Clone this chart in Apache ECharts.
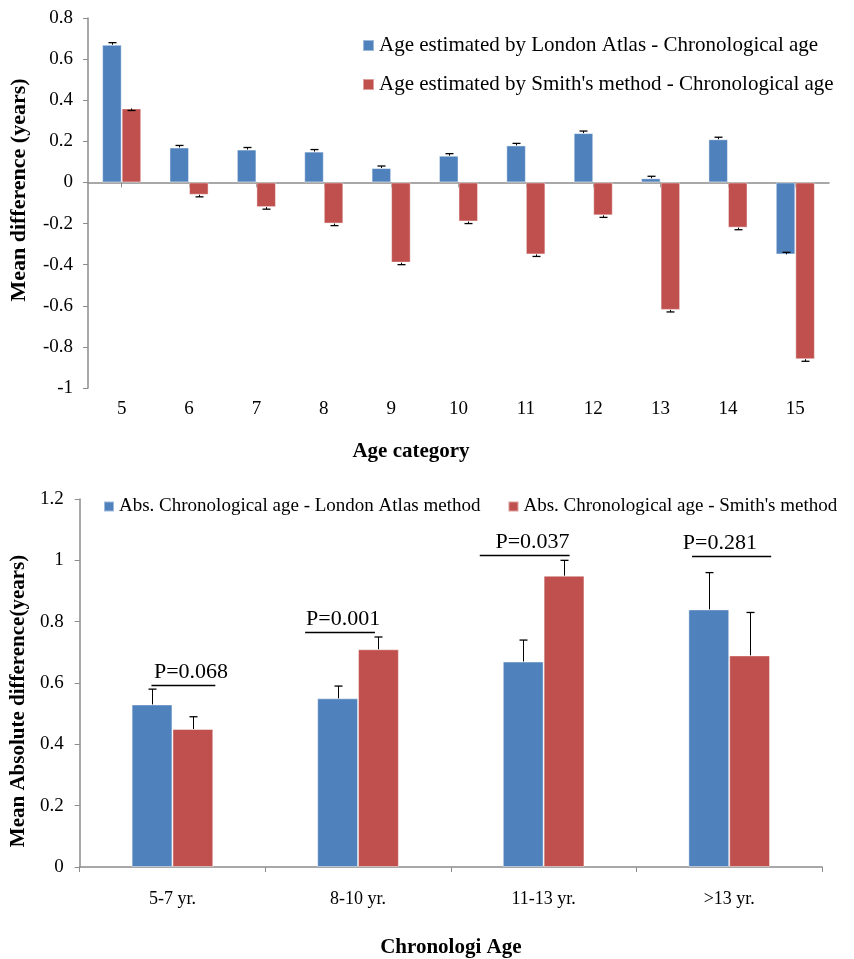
<!DOCTYPE html>
<html>
<head>
<meta charset="utf-8">
<script src="https://cdn.jsdelivr.net/npm/echarts@6/dist/echarts.min.js"></script>
<style>
html,body{margin:0;padding:0;background:#fff;}
#chart{width:854px;height:959px;}
</style>
</head>
<body>
<div id="chart"></div>
<script>
// ---------- Data: top chart ----------
const ageCategories = ['5','6','7','8','9','10','11','12','13','14','15'];
const londonDiff = [0.67, 0.17, 0.16, 0.15, 0.07, 0.13, 0.18, 0.24, 0.02, 0.21, -0.35];
const smithDiff  = [0.36, -0.06, -0.12, -0.20, -0.39, -0.19, -0.35, -0.16, -0.62, -0.22, -0.86];
const londonDiffErr = [0.01, 0.01, 0.01, 0.01, 0.01, 0.01, 0.01, 0.01, 0.01, 0.01, 0.01]; // drawn upward
const smithDiffErr  = [0.01, 0.01, 0.01, 0.01, 0.01, 0.01, 0.01, 0.01, 0.01, 0.01, 0.01]; // drawn downward
const topYTicks = {min: -1, max: 0.8, interval: 0.2};

// ---------- Data: bottom chart ----------
const ageGroups = ['5-7 yr.', '8-10 yr.', '11-13 yr.', '>13 yr.'];
const londonAbs = [0.53, 0.55, 0.67, 0.84];
const smithAbs  = [0.45, 0.71, 0.95, 0.69];
const londonAbsErr = [0.05, 0.04, 0.07, 0.12];
const smithAbsErr  = [0.04, 0.04, 0.05, 0.14];
const pValueLabels = ['P=0.068', 'P=0.001', 'P=0.037', 'P=0.281'];
const pValueLevel  = [0.593, 0.766, 1.018, 1.013];
const bottomYTicks = {min: 0, max: 1.2, interval: 0.2};

const nameTop1 = 'Age estimated by London Atlas - Chronological age';
const nameTop2 = "Age estimated by Smith's method - Chronological age";
const nameBot1 = 'Abs. Chronological age - London Atlas method';
const nameBot2 = "Abs. Chronological age - Smith's method";

// ---------- Styles / layout ----------
const FONT = "'Liberation Serif', 'Times New Roman', serif";
const BLUE = '#4F81BD', RED = '#C0504D', AXIS = '#8c8c8c';
const TOP_GAP = 0.42, BOT_GAP = 0.56;
// bracket spans relative to category centre (fraction of category width)
const bracketLayout = [
  {from: -0.113, to: 0.231, text: 0.10},
  {from: -0.285, to: 0.091, text: -0.08},
  {from: -0.344, to: 0.140, text: -0.06},
  {from: -0.200, to: 0.226, text: -0.05}
];

function errRender(side, gap) {
  return function (params, api) {
    const idx = api.value(0), v = api.value(1), e = api.value(2);
    const band = api.size([1, 0])[0];
    const barW = band * (1 - gap) / 2;
    const c = api.coord([idx, v]);
    const t = api.coord([idx, e]);
    const x = Math.round(c[0] + side * barW / 2) + 0.5;
    const cap = 4;
    return {
      type: 'group',
      children: [
        {type: 'line', shape: {x1: x, y1: c[1], x2: x, y2: t[1]}, style: {stroke: '#000', lineWidth: 1}},
        {type: 'line', shape: {x1: x - cap, y1: t[1], x2: x + cap, y2: t[1]}, style: {stroke: '#000', lineWidth: 1.3}}
      ]
    };
  };
}

function bracketRender(params, api) {
  const idx = api.value(0), lvl = api.value(1);
  const band = api.size([1, 0])[0];
  const c = api.coord([idx, lvl]);
  const L = bracketLayout[params.dataIndex];
  const y = Math.round(c[1]) + 0.5;
  return {
    type: 'group',
    children: [
      {type: 'line', shape: {x1: c[0] + L.from * band, y1: y, x2: c[0] + L.to * band, y2: y},
       style: {stroke: '#000', lineWidth: 1.3}},
      {type: 'text', x: c[0] + L.text * band, y: y - 2,
       style: {text: pValueLabels[params.dataIndex], font: '22px ' + FONT, fill: '#000',
               align: 'center', verticalAlign: 'bottom'}}
    ]
  };
}

const axisLabelStyle = {color: '#000', fontFamily: FONT, fontSize: 19};
const barStyle = c => ({color: c, borderColor: 'rgba(255,255,255,0.45)', borderWidth: 1});

const option = {
  animation: false,
  backgroundColor: '#fff',
  textStyle: {fontFamily: FONT},
  grid: [
    {left: 88, right: 25, top: 18, height: 370},
    {left: 78, right: 32, top: 499, height: 377}
  ],
  legend: [
    {
      data: [nameTop1, nameTop2], orient: 'vertical', left: 357, top: 30, itemGap: 18,
      itemWidth: 11, itemHeight: 11, icon: 'rect',
      textStyle: {color: '#000', fontFamily: FONT, fontSize: 21}
    },
    {
      data: [nameBot1, nameBot2], orient: 'horizontal', left: 98, top: 492, itemGap: 27,
      itemWidth: 10, itemHeight: 10, icon: 'rect',
      textStyle: {color: '#000', fontFamily: FONT, fontSize: 19}
    }
  ],
  xAxis: [
    { // zero line with ticks
      type: 'category', gridIndex: 0, data: ageCategories, position: 'bottom',
      axisLine: {onZero: true, lineStyle: {color: AXIS, width: 1.5}},
      axisTick: {show: true, alignWithLabel: true, length: 5, lineStyle: {color: AXIS}},
      axisLabel: {show: false}
    },
    { // labels at bottom
      type: 'category', gridIndex: 0, data: ageCategories, position: 'bottom',
      axisLine: {show: false, onZero: false}, axisTick: {show: false},
      axisLabel: Object.assign({margin: 12}, axisLabelStyle),
      name: 'Age category', nameLocation: 'middle', nameGap: 53,
      nameTextStyle: {color: '#000', fontFamily: FONT, fontSize: 21, fontWeight: 'bold', padding: [0, 95, 0, 0]}
    },
    {
      type: 'category', gridIndex: 1, data: ageGroups,
      axisLine: {lineStyle: {color: AXIS, width: 1.5}},
      axisTick: {show: true, length: 5, lineStyle: {color: AXIS}},
      axisLabel: Object.assign({margin: 23}, axisLabelStyle, {fontSize: 18}),
      name: 'Chronologi Age', nameLocation: 'middle', nameGap: 70,
      nameTextStyle: {color: '#000', fontFamily: FONT, fontSize: 21, fontWeight: 'bold'}
    }
  ],
  yAxis: [
    {
      type: 'value', gridIndex: 0, min: topYTicks.min, max: topYTicks.max, interval: topYTicks.interval,
      axisLine: {show: true, lineStyle: {color: AXIS, width: 1.5}},
      axisTick: {show: true, length: 5, lineStyle: {color: AXIS}},
      splitLine: {show: false},
      axisLabel: Object.assign({margin: 15}, axisLabelStyle),
      name: 'Mean difference (years)', nameLocation: 'middle', nameGap: 58,
      nameTextStyle: {color: '#000', fontFamily: FONT, fontSize: 22, fontWeight: 'bold', padding: [0, 0, 0, 26]}
    },
    {
      type: 'value', gridIndex: 1, min: bottomYTicks.min, max: bottomYTicks.max, interval: bottomYTicks.interval,
      axisLine: {show: true, lineStyle: {color: AXIS, width: 1.5}},
      axisTick: {show: true, length: 5, lineStyle: {color: AXIS}},
      splitLine: {show: false},
      axisLabel: Object.assign({margin: 16}, axisLabelStyle),
      name: 'Mean Absolute difference(years)', nameLocation: 'middle', nameGap: 50,
      nameTextStyle: {color: '#000', fontFamily: FONT, fontSize: 21, fontWeight: 'bold', padding: [0, 36, 0, 0]}
    }
  ],
  series: [
    {name: nameTop1, type: 'bar', xAxisIndex: 0, yAxisIndex: 0, data: londonDiff,
     barGap: '0%', barCategoryGap: (TOP_GAP * 100) + '%', itemStyle: barStyle(BLUE)},
    {name: nameTop2, type: 'bar', xAxisIndex: 0, yAxisIndex: 0, data: smithDiff,
     barGap: '0%', barCategoryGap: (TOP_GAP * 100) + '%', itemStyle: barStyle(RED)},
    {type: 'custom', xAxisIndex: 0, yAxisIndex: 0, z: 5, renderItem: errRender(-1, TOP_GAP),
     data: londonDiff.map((v, i) => [i, v, v + londonDiffErr[i]])},
    {type: 'custom', xAxisIndex: 0, yAxisIndex: 0, z: 5, renderItem: errRender(1, TOP_GAP),
     data: smithDiff.map((v, i) => [i, v, v - smithDiffErr[i]])},

    {name: nameBot1, type: 'bar', xAxisIndex: 2, yAxisIndex: 1, data: londonAbs,
     barGap: '0%', barCategoryGap: (BOT_GAP * 100) + '%', itemStyle: barStyle(BLUE)},
    {name: nameBot2, type: 'bar', xAxisIndex: 2, yAxisIndex: 1, data: smithAbs,
     barGap: '0%', barCategoryGap: (BOT_GAP * 100) + '%', itemStyle: barStyle(RED)},
    {type: 'custom', xAxisIndex: 2, yAxisIndex: 1, z: 5, renderItem: errRender(-1, BOT_GAP),
     data: londonAbs.map((v, i) => [i, v, v + londonAbsErr[i]])},
    {type: 'custom', xAxisIndex: 2, yAxisIndex: 1, z: 5, renderItem: errRender(1, BOT_GAP),
     data: smithAbs.map((v, i) => [i, v, v + smithAbsErr[i]])},
    {type: 'custom', xAxisIndex: 2, yAxisIndex: 1, z: 6, renderItem: bracketRender,
     data: pValueLevel.map((v, i) => [i, v])}
  ]
};

const chart = echarts.init(document.getElementById('chart'), null, {renderer: 'canvas'});
chart.setOption(option);
</script>
</body>
</html>
